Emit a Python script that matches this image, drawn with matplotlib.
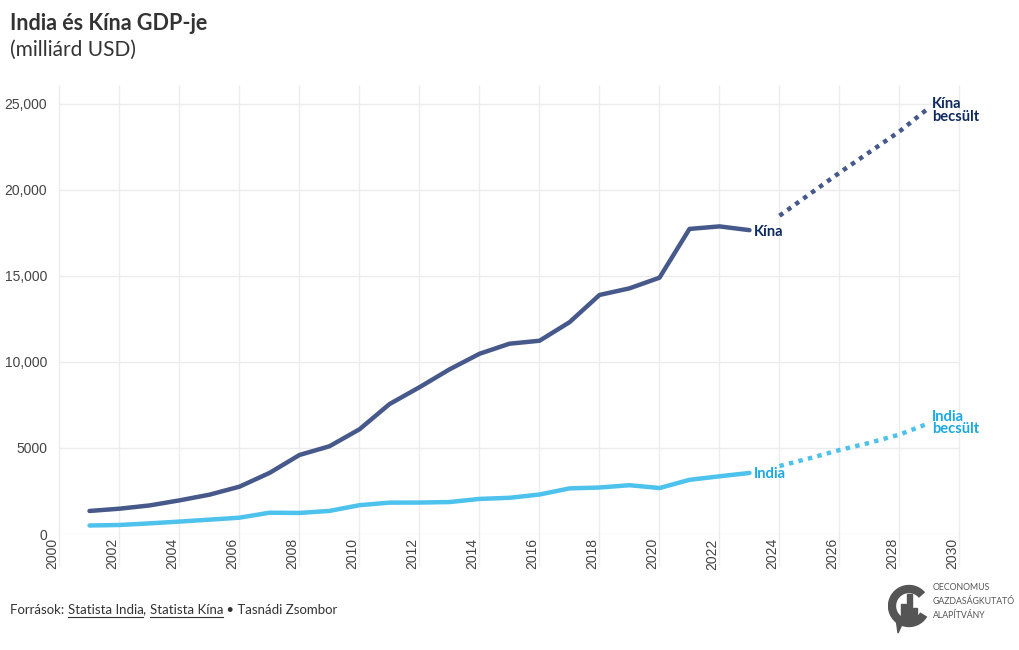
import matplotlib
matplotlib.use("Agg")
import matplotlib.pyplot as plt
from matplotlib.patches import Arc, Rectangle, Polygon

# adatok (milliárd USD)
years = list(range(2001, 2024))
china = [1339, 1471, 1660, 1955, 2286, 2752, 3550, 4594, 5101, 6087, 7552, 8532,
         9570, 10476, 11062, 11233, 12310, 13895, 14280, 14900, 17734, 17881, 17662]
india = [494, 524, 618, 722, 834, 949, 1238, 1224, 1342, 1676, 1823, 1828,
         1857, 2039, 2104, 2295, 2651, 2702, 2836, 2672, 3150, 3354, 3550]

est_years = [2024, 2025, 2026, 2027, 2028, 2029]
china_est = [18500, 19750, 21000, 22200, 23400, 24800]
india_est = [3950, 4400, 4880, 5300, 5780, 6450]

xticks = list(range(2000, 2031, 2))
yticks = [0, 5000, 10000, 15000, 20000, 25000]
ytick_labels = ["0", "5000", "10,000", "15,000", "20,000", "25,000"]

china_col = "#46598a"
china_lab = "#0e2a5e"
india_col = "#4cc2ec"
india_lab = "#1aa9e2"
grid_col = "#ececec"
txt = "Lato"

W, H = 1020, 650
fig = plt.figure(figsize=(W / 100, H / 100), dpi=100)
ax = fig.add_axes([59.5 / W, (H - 534) / H, 900 / W, 449 / H])
ax.set_xlim(2000, 2030)
ax.set_ylim(0, 26100)

for s in ax.spines.values():
    s.set_visible(False)
ax.set_yticks(yticks)
ax.set_yticklabels(ytick_labels)
ax.set_xticks(xticks)
ax.set_xticklabels([str(x) for x in xticks], rotation=90, ha="right")
ax.tick_params(length=0, labelsize=10, labelcolor="#444444")
ax.tick_params(axis="y", pad=9)
ax.tick_params(axis="x", pad=3)
for lab in ax.get_xticklabels() + ax.get_yticklabels():
    lab.set_fontfamily("Liberation Sans")

ax.hlines(yticks, 2000, 2030, color=grid_col, lw=1, zorder=0)
ax.vlines(xticks, -1850, 26100, color=grid_col, lw=1, zorder=0, clip_on=False)

ax.plot(years, china, color=china_col, lw=3.2, solid_capstyle="round", solid_joinstyle="round")
ax.plot(years, india, color=india_col, lw=3.2, solid_capstyle="round", solid_joinstyle="round")
ax.plot(est_years, china_est, color=china_col, lw=3.2, linestyle=(0, (1, 1.2)),
        dash_capstyle="butt")
ax.plot(est_years, india_est, color=india_col, lw=3.2, linestyle=(0, (1, 1.2)),
        dash_capstyle="butt")

lab_kw = dict(textcoords="offset points", fontsize=10.5, fontweight="bold",
              fontfamily=txt, va="center", ha="left", linespacing=0.9)
ax.annotate("Kína", (years[-1], china[-1]), xytext=(3, -1), color=china_lab, **lab_kw)
ax.annotate("India", (years[-1], india[-1]), xytext=(3, -1), color=india_lab, **lab_kw)
ax.annotate("Kína\nbecsült", (est_years[-1], china_est[-1]), xytext=(2, -2),
            color=china_lab, **lab_kw)
ax.annotate("India\nbecsült", (est_years[-1], india_est[-1]), xytext=(2, 0),
            color=india_lab, **lab_kw)

# cím
fig.text(10 / W, 1 - 23 / H, "India és Kína GDP-je", fontsize=15.5, fontweight="bold",
         fontfamily=txt, color="#333333", va="center")
fig.text(10 / W, 1 - 50 / H, "(milliárd USD)", fontsize=15, fontfamily=txt,
         color="#333333", va="center")

# forrás
pieces = [("Források: ", False), ("Statista India", True), (", ", False),
          ("Statista Kína", True), (" • Tasnádi Zsombor", False)]
renderer = fig.canvas.get_renderer()
x0 = 10
for s, under in pieces:
    t = fig.text(x0 / W, 1 - 610 / H, s, fontsize=9.5, fontfamily=txt,
                 color="#333333", va="center")
    bb = t.get_window_extent(renderer)
    if under:
        fig.add_artist(plt.Line2D([bb.x0 / W, bb.x1 / W], [(bb.y0 - 0.5) / H] * 2,
                                  color="#333333", lw=0.8))
    x0 += bb.width

# logó
lax = fig.add_axes([888 / W, (H - 638) / H, 50 / W, 60 / H])
lax.set_xlim(0, 50)
lax.set_ylim(0, 60)
lax.axis("off")
logo_col = "#555555"
lax.add_patch(Arc((21, 32), 34, 34, theta1=40, theta2=330, lw=6, color=logo_col))
lax.add_patch(Polygon([[8, 20], [16, 18], [10, 5]], color=logo_col))
lax.add_patch(Rectangle((13, 18), 5, 16, color=logo_col))
lax.add_patch(Rectangle((19, 18), 5, 26, color=logo_col))
lax.add_patch(Rectangle((25, 18), 4, 12, color=logo_col))
for i, s in enumerate(["OECONOMUS", "GAZDASÁGKUTATÓ", "ALAPÍTVÁNY"]):
    fig.text(933 / W, 1 - (588 + i * 13.5) / H, s, fontsize=6.3, fontfamily=txt,
             color=logo_col, va="center")

fig.savefig("out.png", dpi=100, facecolor="white")
